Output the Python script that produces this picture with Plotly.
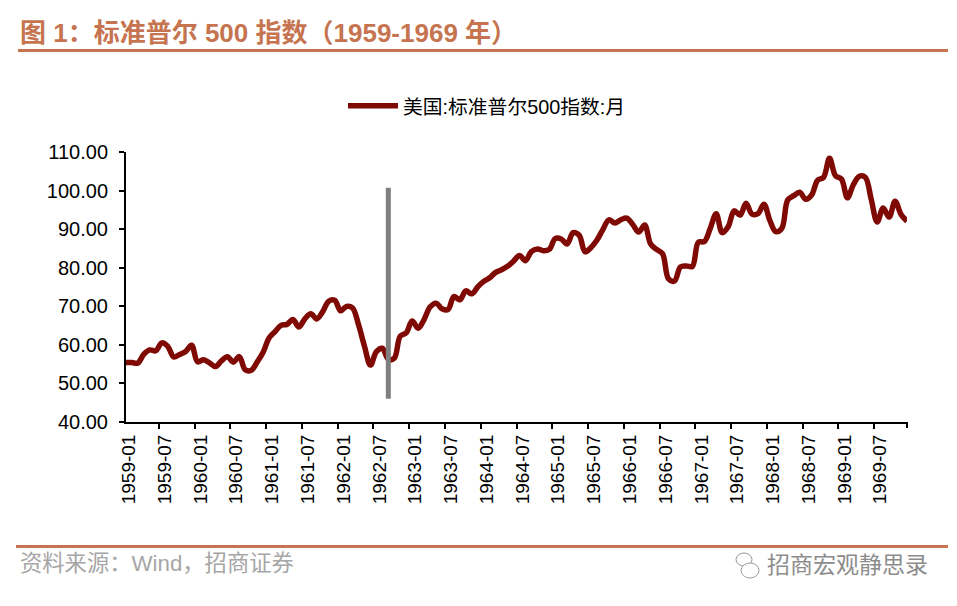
import plotly.graph_objects as go

years = list(range(1959, 1970))
months = [f"{y}-{m:02d}" for y in years for m in range(1, 13)]

# month end values
sp500 = [
    55.45, 55.4, 55.3, 57.59, 58.68, 58.47, 60.51, 59.60, 56.88, 57.52, 58.28, 59.89,
    55.61, 56.12, 55.34, 54.37, 55.83, 56.92, 55.51, 56.96, 53.52, 53.39, 55.54, 58.11,
    61.78, 63.44, 65.06, 65.31, 66.56, 64.64, 66.76, 68.07, 66.73, 68.62, 71.32, 71.55,
    68.84, 69.96, 69.55, 65.24, 59.63, 54.75, 58.23, 59.12, 56.27, 56.52, 62.26, 63.10,
    66.20, 64.29, 66.57, 69.80, 70.80, 69.37, 69.13, 72.50, 71.70, 74.01, 73.23, 75.02,
    76.45, 77.39, 78.80, 79.46, 80.37, 81.69, 83.18, 81.83, 84.18, 84.86, 84.42, 84.75,
    87.56, 87.43, 86.16, 89.11, 88.42, 84.12, 85.25, 87.17, 89.96, 92.42, 91.61, 92.43,
    92.88, 91.22, 89.23, 91.06, 86.13, 84.74, 83.60, 77.10, 76.56, 80.20, 80.45, 80.33,
    86.61, 86.78, 90.20, 94.01, 89.08, 90.64, 94.75, 93.64, 96.71, 93.90, 94.00, 96.47,
    92.24, 89.36, 90.20, 97.59, 98.68, 99.58, 97.74, 98.86, 102.67, 103.41, 108.37, 103.86,
    103.01, 98.13, 101.51, 103.69, 103.46, 97.71, 91.83, 95.51, 93.12, 97.24, 93.81, 92.06,
]

marker_month = ["1962-09", "1962-09"]
marker_range = [46, 100.7]
y_ticks = [40, 50, 60, 70, 80, 90, 100, 110]

# the page body has an 8px margin, so everything is shifted back by that
PAD = 8
W, H = 957 - 2 * PAD, 606 - 2 * PAD
L, R, T, B = 126 - PAD, 907 - PAD, 152 - PAD, 422 - PAD
ACCENT = "#c5744f"
FONT = "Liberation Sans, Arial, Noto Sans CJK SC, sans-serif"


# page pixels to paper coordinates
def px(x):
    return (x - PAD - L) / (R - L)


def py(y):
    return (B - y + PAD) / (B - T)


fig = go.Figure()
fig.add_trace(go.Scatter(
    x=months, y=sp500, mode="lines", name="美国:标准普尔500指数:月",
    line=dict(color="#7f0a04", width=5.5, shape="spline", smoothing=1),
))
fig.add_trace(go.Scatter(
    x=marker_month, y=marker_range, mode="lines", showlegend=False,
    line=dict(color="#7f7f7f", width=5),
))

fig.update_layout(
    width=W, height=H, autosize=False,
    margin=dict(l=L, r=W - R, t=T, b=H - B),
    plot_bgcolor="white", paper_bgcolor="white",
    font=dict(family=FONT, color="black"),
    legend=dict(
        orientation="h", x=px(343), xanchor="left", y=py(106), yanchor="middle",
        font=dict(size=19.8), itemwidth=50, bgcolor="rgba(0,0,0,0)",
    ),
    xaxis=dict(
        type="category", categoryorder="array", categoryarray=months,
        tickmode="linear", tick0=0, dtick=6, tickson="boundaries",
        tickangle=-90, ticks="outside", ticklen=5, tickwidth=2, tickcolor="black",
        showline=True, linewidth=2, linecolor="black", showgrid=False,
        tickfont=dict(size=19), automargin=False,
        ticklabelstandoff=3, ticklabelshift=3,
    ),
    yaxis=dict(
        range=[40, 110], tickvals=y_ticks, tickformat=".2f",
        ticks="outside", ticklen=5, tickwidth=2, tickcolor="black",
        showline=True, linewidth=2, linecolor="black", showgrid=False,
        tickfont=dict(size=20), automargin=False, zeroline=False,
        ticklabelstandoff=7,
    ),
    shapes=[
        dict(type="line", xref="paper", yref="paper", x0=px(18), x1=px(948), y0=py(50.5), y1=py(50.5),
             line=dict(color=ACCENT, width=3)),
        dict(type="line", xref="paper", yref="paper", x0=px(16), x1=px(948), y0=py(546.5), y1=py(546.5),
             line=dict(color=ACCENT, width=3)),
        # closing tick at the end of the x axis
        dict(type="line", xref="paper", yref="paper", x0=1, x1=1, y0=0, y1=py(428),
             line=dict(color="black", width=2)),
        # wechat bubbles next to the watermark
        dict(type="circle", xref="paper", yref="paper", x0=px(736), x1=px(752), y0=py(566), y1=py(553),
             line=dict(color="#9a9a9a", width=1), fillcolor="white"),
        dict(type="circle", xref="paper", yref="paper", x0=px(741), x1=px(759), y0=py(578), y1=py(563),
             line=dict(color="#9a9a9a", width=1), fillcolor="white"),
    ],
    annotations=[
        dict(text="<b>图 1：标准普尔 500 指数（1959-1969 年）</b>", xref="paper", yref="paper",
             x=px(18), y=py(33), xanchor="left", yanchor="middle", showarrow=False,
             font=dict(size=26, color=ACCENT)),
        dict(text="资料来源：Wind，招商证券", xref="paper", yref="paper",
             x=px(18), y=py(563), xanchor="left", yanchor="middle", showarrow=False,
             font=dict(size=22.3, color="#a6a6a6")),
        dict(text="招商宏观静思录", xref="paper", yref="paper",
             x=px(765), y=py(565), xanchor="left", yanchor="middle", showarrow=False,
             font=dict(size=23, color="#8c8c8c")),
    ],
)

fig.write_html("out.html")
